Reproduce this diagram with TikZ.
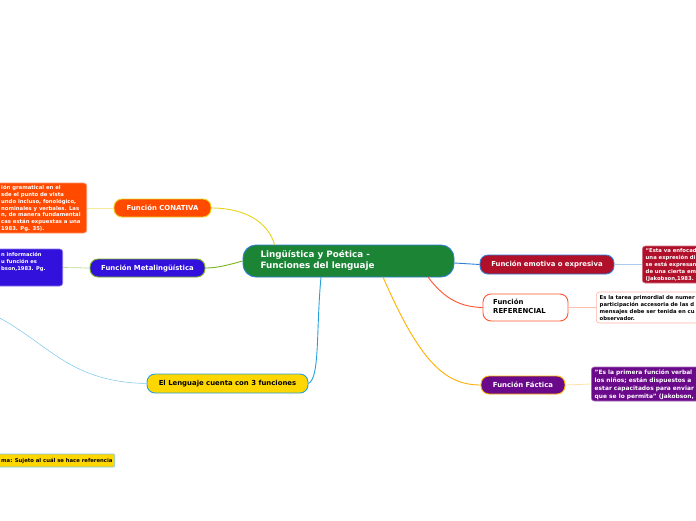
\documentclass[tikz,border=0pt]{standalone}
\usepackage{fontspec}
\setmainfont{DejaVu Sans}
\definecolor{cgreen}{HTML}{1B8535}
\definecolor{cblue}{HTML}{2F7FD8}
\definecolor{corange}{HTML}{FF4A00}
\definecolor{cyellow}{HTML}{E8D21C}
\definecolor{cviolet}{HTML}{3311DD}
\definecolor{clime}{HTML}{7AB51D}
\definecolor{cgold}{HTML}{FFD700}
\definecolor{csky}{HTML}{25A0DC}
\definecolor{ccrimson}{HTML}{B0102A}
\definecolor{cred}{HTML}{FF5530}
\definecolor{cpurple}{HTML}{6A0A8A}
\definecolor{camber}{HTML}{FFB000}
\begin{document}
\begin{tikzpicture}[x=1pt,y=-1pt,
  topic/.style={rounded corners=8pt, line width=0.9pt, inner sep=0pt, align=center,
    font=\bfseries\fontsize{6.9}{8.5}\selectfont},
  note/.style={rounded corners=3pt, line width=0.6pt, inner sep=0pt},
  notetext/.style={inner sep=0pt, align=left, anchor=west},
  link/.style={line width=0.9pt}]
\useasboundingbox (0,0) rectangle (696,520);
\clip (0,0) rectangle (696,520);
\fill[white] (0,0) rectangle (696,520);

% central
\node[topic, fill=cgreen, draw=cblue, text=white, minimum width=211, minimum height=32,
  rounded corners=13pt, font=\bfseries\fontsize{8.8}{11}\selectfont, align=left]
  (c) at (348.5,261) {\hspace*{-62pt}\begin{tabular}{@{}l@{}}Lingüística y Poética -\\Funciones del lenguaje\end{tabular}};

% left side
\node[topic, fill=corange, draw=cyellow, text=white, minimum width=97, minimum height=18] (con) at (162.5,208) {Función CONATIVA};
\node[note, fill=corange, draw=corange!60!white, minimum width=147, minimum height=50, anchor=east] (conb) at (87,208) {};
\node[notetext, text=white, font=\bfseries\fontsize{5.3}{6.8}\selectfont] at (1,208.5)
 {ión gramatical en el\\sde el punto de vista\\undo incluso, fonológico,\\nominales y verbales. Las\\n, de manera fundamental\\cas están expuestas a una\\1983. Pg. 35).};

\node[topic, fill=cviolet, draw=clime, text=white, minimum width=115, minimum height=18] (met) at (147.5,268) {Función Metalingüística};
\node[note, fill=cviolet, draw=cviolet!60!white, minimum width=120, minimum height=37, anchor=east] (metb) at (63,267.5) {};
\node[notetext, text=white, font=\bfseries\fontsize{5.2}{7}\selectfont] at (1,262)
 {n información\\u función es\\bson,1983. Pg.};

\node[topic, fill=cgold, draw=csky, text=black, minimum width=161, minimum height=19] (len) at (227.5,383.5) {El Lenguaje cuenta con 3 funciones};
\coordinate (lfree) at (-2,317);
\node[note, fill=cgold, draw=csky!60!white, rounded corners=1pt, minimum width=160, minimum height=13, anchor=east] (tema) at (115,460.5) {};
\node[notetext, text=black, font=\bfseries\fontsize{5.3}{6}\selectfont] at (1,461) {ma: Sujeto al cuál se hace referencia};

% right side
\node[topic, fill=ccrimson, draw=cblue, text=white, minimum width=134, minimum height=19] (emo) at (547,264.5) {Función emotiva o expresiva};
\node[note, fill=ccrimson, draw=ccrimson!60!white, minimum width=100, minimum height=37, anchor=west] (emob) at (642,264.5) {};
\node[notetext, text=white, font=\bfseries\fontsize{5.3}{7}\selectfont] at (645.5,265)
 {“Esta va enfocad\\una expresión di\\se está expresan\\de una cierta em\\(Jakobson,1983.};

\node[topic, fill=white, draw=cred, text=black, minimum width=85, minimum height=27, align=left] (ref) at (525.5,307.5) {\hspace*{-12pt}\begin{tabular}{@{}l@{}}Función\\REFERENCIAL\end{tabular}};
\node[note, fill=white, draw=cred!45!white, minimum width=110, minimum height=31, anchor=west] (refb) at (596,307.5) {};
\node[notetext, text=black, font=\bfseries\fontsize{5.3}{7.3}\selectfont] at (599.5,308)
 {Es la tarea primordial de numer\\participación accesoria de las d\\mensajes debe ser tenida en cu\\observador.};

\node[topic, fill=cpurple, draw=camber, text=white, minimum width=84, minimum height=18] (fac) at (523,385) {Función Fáctica};
\node[note, fill=cpurple, draw=cpurple!60!white, minimum width=110, minimum height=34, anchor=west] (facb) at (591,384) {};
\node[notetext, text=white, font=\bfseries\fontsize{5.9}{8}\selectfont] at (594.5,384.5)
 {"Es la primera función verbal\\los niños; están dispuestos a\\estar capacitados para enviar\\que se lo permita" (Jakobson,};

% connectors
\draw[link, cyellow] (c.north west) ++(32,0) .. controls (268,222) and (245,208) .. (con.east);
\draw[line width=0.7pt, cyellow!45!white] (con.west) -- (conb.east);
\draw[link, clime] (c.west) .. controls (225,266) and (215,268) .. (met.east);
\draw[line width=0.7pt, clime!50!white] (met.west) -- (metb.east);
\draw[link, csky] (321,277) .. controls (316,330) and (320,378) .. (len.east);
\draw[line width=0.5pt, csky!60!white] (lfree) .. controls (50,345) and (70,382) .. (len.west);
\draw[link, cblue] (c.east) ++(0,2) -- (emo.west);
\draw[line width=0.8pt, cblue!40!white] (emo.east) -- (emob.west);
\draw[link, cred] (428,277) .. controls (445,300) and (462,307) .. (ref.west);
\draw[line width=0.8pt, cred!40!white] (ref.east) -- (refb.west);
\draw[link, camber] (383,277) .. controls (420,362) and (445,385) .. (fac.west);
\draw[line width=0.8pt, camber!35!white] (fac.east) -- (facb.west);
\end{tikzpicture}
\end{document}
